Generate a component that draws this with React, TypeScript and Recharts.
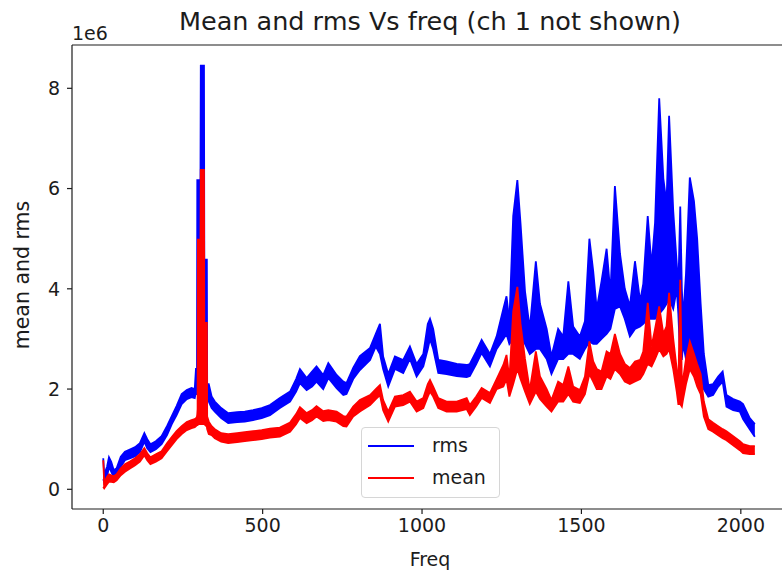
import React from 'react';
import { ComposedChart, Area, XAxis, YAxis, ReferenceLine, Legend } from 'recharts';

// Frequency bins (x) and envelope of the noisy traces (values in units of 1e6)
const FREQ = [
  0, 3, 12, 18, 25, 33, 42, 55, 68, 85, 100, 115, 129, 138, 148, 165, 183, 200, 215, 230,
  246, 262, 277, 287, 291, 294, 295, 296, 297, 305, 306, 316, 317, 325, 326, 331, 340, 350, 370, 392,
  420, 444, 470, 497, 523, 554, 586, 605, 617, 638, 655, 669, 690, 706, 732, 753, 763, 784, 805, 837,
  855, 868, 878, 894, 915, 941, 962, 983, 1004, 1018, 1025, 1035, 1051, 1077, 1109, 1140, 1150, 1170, 1187, 1213,
  1234, 1255, 1265, 1274, 1286, 1299, 1309, 1323, 1338, 1357, 1370, 1391, 1406, 1427, 1443, 1459, 1474, 1495, 1511, 1525,
  1537, 1548, 1563, 1579, 1591, 1605, 1621, 1636, 1652, 1668, 1684, 1694, 1708, 1720, 1731, 1744, 1757, 1767, 1775, 1788,
  1799, 1804, 1810, 1815, 1819, 1828, 1840, 1853, 1863, 1874, 1884, 1898, 1913, 1929, 1943, 1955, 1976, 1997, 2007, 2028,
  2044,
];

const RMS_LOW = [
  0.20, 0.15, 0.25, 0.45, 0.35, 0.24, 0.28, 0.45, 0.58, 0.62, 0.66, 0.74, 0.95, 0.82, 0.74, 0.80, 0.90, 1.08, 1.30, 1.48,
  1.70, 1.80, 1.84, 1.82, 1.95, 1.90, 1.90, 1.90, 1.95, 2.00, 2.00, 2.00, 2.00, 1.95, 1.90, 1.75, 1.62, 1.55, 1.42, 1.32,
  1.34, 1.35, 1.38, 1.42, 1.48, 1.62, 1.75, 1.95, 2.12, 1.98, 2.05, 2.15, 2.00, 2.22, 2.02, 1.88, 1.90, 2.20, 2.38, 2.58,
  2.85, 2.70, 2.40, 2.05, 2.40, 2.32, 2.60, 2.25, 2.45, 2.80, 3.00, 2.80, 2.32, 2.30, 2.26, 2.24, 2.26, 2.50, 2.72, 2.45,
  2.80, 3.00, 3.10, 2.90, 3.00, 3.10, 3.00, 2.90, 2.70, 2.80, 2.80, 2.60, 2.30, 2.60, 2.60, 2.70, 2.70, 2.60, 2.80, 2.95,
  2.90, 2.90, 3.00, 3.10, 3.20, 3.60, 3.65, 3.40, 3.05, 3.20, 3.25, 3.30, 3.40, 3.40, 3.40, 3.50, 3.60, 3.70, 3.80, 3.60,
  4.00, 3.50, 2.60, 2.60, 2.90, 2.60, 2.90, 2.70, 2.50, 2.30, 2.00, 1.85, 1.88, 2.05, 2.15, 1.65, 1.58, 1.55, 1.40, 1.20,
  1.05,
];

const RMS_HIGH = [
  0.62, 0.30, 0.45, 0.64, 0.55, 0.38, 0.42, 0.65, 0.75, 0.80, 0.84, 0.92, 1.12, 1.00, 0.90, 0.96, 1.06, 1.26, 1.46, 1.66,
  1.90, 1.98, 2.02, 2.00, 2.42, 2.10, 6.17, 6.17, 6.17, 6.17, 8.45, 8.45, 4.58, 4.58, 2.10, 2.10, 1.85, 1.75, 1.62, 1.52,
  1.54, 1.55, 1.58, 1.62, 1.68, 1.82, 1.95, 2.20, 2.40, 2.22, 2.35, 2.45, 2.28, 2.52, 2.28, 2.15, 2.12, 2.42, 2.66, 2.82,
  3.10, 3.30, 2.65, 2.30, 2.65, 2.58, 2.85, 2.50, 2.70, 3.30, 3.40, 3.20, 2.58, 2.55, 2.50, 2.48, 2.50, 2.75, 2.98, 2.70,
  3.05, 3.60, 3.85, 3.35, 5.45, 6.17, 5.30, 3.95, 3.20, 4.55, 3.70, 3.20, 2.65, 3.20, 3.05, 4.15, 3.25, 3.05, 3.35, 5.00,
  4.35, 3.60, 4.15, 4.80, 3.90, 6.05, 4.70, 4.00, 3.65, 4.55, 3.75, 4.10, 5.45, 4.45, 5.32, 7.80, 6.20, 5.70, 7.45, 5.55,
  4.50, 4.00, 5.64, 4.00, 3.40, 4.30, 6.22, 5.75, 5.00, 3.70, 2.70, 2.08, 2.10, 2.25, 2.35, 1.88, 1.80, 1.75, 1.70, 1.42,
  1.30,
];

const MEAN_LOW = [
  0.05, 0.02, 0.10, 0.15, 0.15, 0.14, 0.18, 0.28, 0.35, 0.42, 0.48, 0.55, 0.68, 0.58, 0.50, 0.55, 0.62, 0.76, 0.88, 1.00,
  1.10, 1.18, 1.22, 1.24, 1.26, 1.28, 1.28, 1.28, 1.30, 1.30, 1.30, 1.30, 1.30, 1.25, 1.20, 1.10, 1.08, 1.02, 0.95, 0.92,
  0.94, 0.96, 0.98, 1.00, 1.03, 1.05, 1.15, 1.30, 1.42, 1.32, 1.38, 1.45, 1.36, 1.38, 1.35, 1.26, 1.25, 1.45, 1.55, 1.68,
  1.80, 1.88, 1.58, 1.35, 1.65, 1.68, 1.75, 1.55, 1.62, 1.85, 1.95, 1.85, 1.62, 1.55, 1.55, 1.60, 1.48, 1.65, 1.82, 1.72,
  2.00, 2.05, 2.20, 1.85, 2.10, 2.40, 2.20, 1.95, 1.70, 1.95, 1.80, 1.65, 1.55, 1.75, 1.75, 1.90, 1.75, 1.72, 1.90, 2.30,
  2.15, 2.00, 2.00, 2.25, 2.20, 2.40, 2.30, 2.15, 2.10, 2.15, 2.20, 2.30, 2.50, 2.45, 2.60, 2.80, 2.65, 2.70, 2.80, 2.40,
  1.95, 1.70, 1.70, 1.65, 1.80, 2.10, 2.40, 2.25, 2.05, 1.90, 1.45, 1.20, 1.15, 1.08, 1.02, 0.98, 0.88, 0.78, 0.72, 0.70,
  0.70,
];

const MEAN_HIGH = [
  0.58, 0.14, 0.25, 0.30, 0.28, 0.26, 0.30, 0.42, 0.50, 0.56, 0.62, 0.70, 0.82, 0.72, 0.64, 0.70, 0.76, 0.92, 1.04, 1.16,
  1.26, 1.34, 1.38, 1.40, 1.42, 1.45, 1.50, 1.60, 4.98, 4.98, 6.37, 6.37, 3.32, 3.32, 1.45, 1.35, 1.26, 1.20, 1.12, 1.10,
  1.12, 1.14, 1.16, 1.18, 1.21, 1.23, 1.33, 1.50, 1.64, 1.52, 1.58, 1.66, 1.56, 1.58, 1.55, 1.46, 1.45, 1.65, 1.78, 1.88,
  2.00, 2.08, 1.78, 1.55, 1.85, 1.88, 1.95, 1.75, 1.82, 2.10, 2.18, 2.05, 1.82, 1.75, 1.75, 1.82, 1.68, 1.85, 2.02, 1.92,
  2.20, 2.48, 2.68, 2.20, 3.55, 4.04, 3.30, 2.60, 1.98, 2.75, 2.25, 2.00, 1.78, 2.15, 2.08, 2.45, 2.05, 1.98, 2.25, 2.95,
  2.55, 2.40, 2.35, 2.75, 2.70, 3.10, 2.70, 2.50, 2.42, 2.55, 2.58, 2.75, 3.72, 2.85, 3.20, 3.65, 3.10, 3.25, 3.92, 3.00,
  2.40, 2.00, 4.18, 2.10, 2.20, 2.60, 2.95, 2.70, 2.50, 2.30, 1.75, 1.40, 1.33, 1.26, 1.20, 1.16, 1.06, 0.96, 0.90, 0.86,
  0.86,
];

const SERIES = [
  { key: 'rms', name: 'rms', color: '#0000ff', low: RMS_LOW, high: RMS_HIGH },
  { key: 'mean', name: 'mean', color: '#ff0000', low: MEAN_LOW, high: MEAN_HIGH },
];

const X_TICKS = [0, 500, 1000, 1500, 2000];
const Y_TICKS = [0, 2, 4, 6, 8];
const X_DOMAIN = [-98, 2148];
const Y_DOMAIN = [-0.393, 8.864];

const TITLE = 'Mean and rms Vs freq (ch 1 not shown)';
const X_LABEL = 'Freq';
const Y_LABEL = 'mean and rms';
const OFFSET_TEXT = '1e6';

const data = FREQ.map((f, i) => {
  const row: any = { f };
  SERIES.forEach((s) => {
    row[s.key] = [s.low[i], s.high[i]];
  });
  return row;
});

const FONT = "'DejaVu Sans', sans-serif";
const INK = '#1c1c1c';

const LegendBox = () => (
  <div
    style={{
      width: 139,
      height: 71,
      boxSizing: 'border-box',
      border: '1px solid #d6d6d6',
      borderRadius: 4,
      background: 'rgba(255,255,255,0.8)',
      position: 'relative',
      fontFamily: FONT,
      fontSize: 19,
      color: INK,
    }}
  >
    {SERIES.map((s, i) => (
      <div key={s.key} style={{ position: 'absolute', left: 0, top: 6 + i * 32, height: 26, width: '100%' }}>
        <div style={{ position: 'absolute', left: 6, top: 11, width: 46, height: 2, background: s.color }} />
        <div style={{ position: 'absolute', left: 70, top: 0, lineHeight: '22px' }}>{s.name}</div>
      </div>
    ))}
  </div>
);

export default function App() {
  return (
    <div
      style={{
        position: 'fixed',
        left: 0,
        top: 0,
        width: 782,
        height: 575,
        overflow: 'hidden',
        background: '#fff',
        fontFamily: FONT,
      }}
    >
      <ComposedChart width={800} height={575} data={data} margin={{ top: 45, right: 12, bottom: 0, left: 0 }}>
        <XAxis
          dataKey="f"
          type="number"
          domain={X_DOMAIN}
          ticks={X_TICKS}
          allowDataOverflow
          height={66}
          tickSize={5}
          tickMargin={5}
          stroke={INK}
          strokeWidth={1.2}
          tick={{ fill: INK, fontSize: 19, fontFamily: FONT }}
        />
        <YAxis
          type="number"
          domain={Y_DOMAIN}
          ticks={Y_TICKS}
          allowDataOverflow
          width={72}
          tickSize={5}
          tickMargin={7}
          stroke={INK}
          strokeWidth={1.2}
          tick={{ fill: INK, fontSize: 19, fontFamily: FONT }}
        />
        <ReferenceLine y={Y_DOMAIN[1]} stroke={INK} strokeWidth={1.2} ifOverflow="visible" />
        {SERIES.map((s) => (
          <Area
            key={s.key}
            type="linear"
            dataKey={s.key}
            name={s.name}
            stroke={s.color}
            strokeWidth={1.8}
            fill={s.color}
            fillOpacity={1}
            dot={false}
            activeDot={false}
            isAnimationActive={false}
          />
        ))}
        <Legend
          layout="horizontal"
          verticalAlign="middle"
          align="center"
          content={() => <LegendBox />}
          wrapperStyle={{ position: 'absolute', left: 361, top: 427, width: 139, height: 71, margin: 0 }}
        />
      </ComposedChart>
      <div
        style={{
          position: 'absolute',
          left: 72,
          width: 716,
          top: 9,
          textAlign: 'center',
          fontSize: 25.5,
          lineHeight: '25.5px',
          color: INK,
          whiteSpace: 'nowrap',
        }}
      >
        {TITLE}
      </div>
      <div style={{ position: 'absolute', left: 72, top: 24, fontSize: 19, lineHeight: '19px', color: INK }}>
        {OFFSET_TEXT}
      </div>
      <div
        style={{
          position: 'absolute',
          left: 72,
          width: 716,
          top: 550,
          textAlign: 'center',
          fontSize: 19,
          lineHeight: '19px',
          color: INK,
        }}
      >
        {X_LABEL}
      </div>
      <div
        style={{
          position: 'absolute',
          left: 22,
          top: 275,
          fontSize: 20.5,
          lineHeight: '20.5px',
          color: INK,
          whiteSpace: 'nowrap',
          transform: 'translate(-50%, -50%) rotate(-90deg)',
        }}
      >
        {Y_LABEL}
      </div>
    </div>
  );
}
